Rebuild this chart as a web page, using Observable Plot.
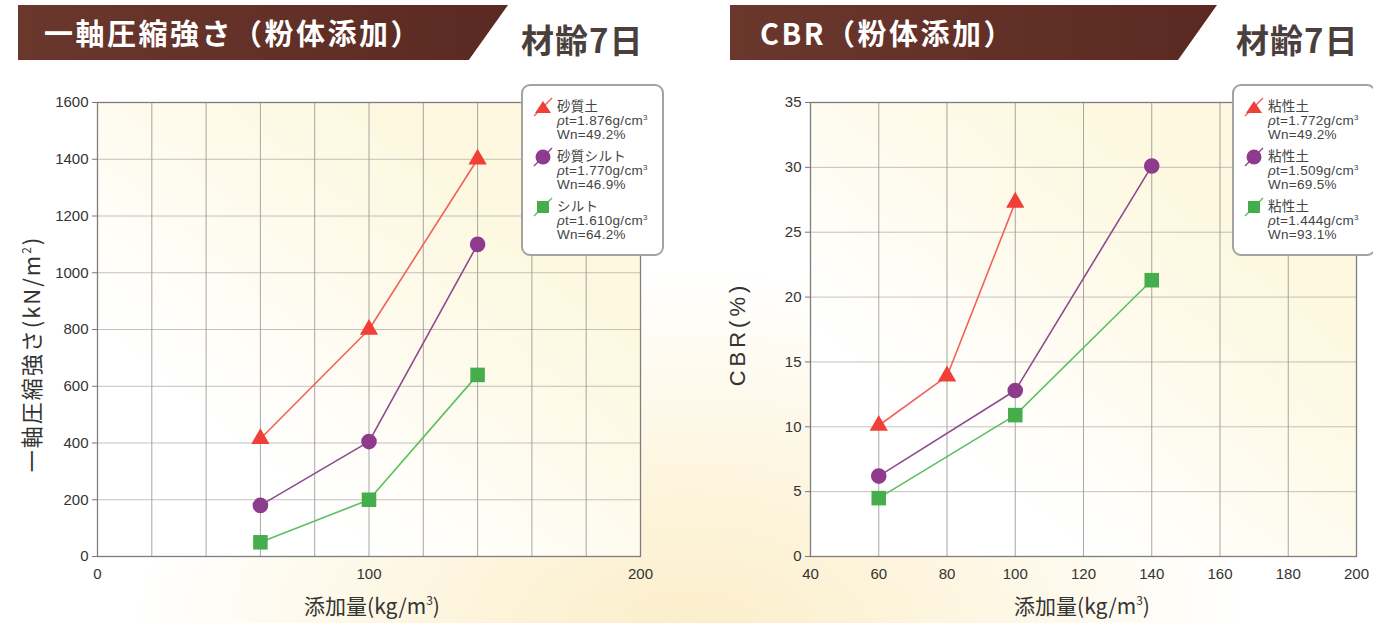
<!DOCTYPE html>
<html><head><meta charset="utf-8">
<script src="https://cdn.jsdelivr.net/npm/d3@7"></script>
<script src="https://cdn.jsdelivr.net/npm/@observablehq/plot@0.6"></script>
<style>
html,body{margin:0;padding:0;}
body{width:1373px;height:623px;position:relative;overflow:hidden;font-family:"Noto Sans CJK JP","Noto Sans",sans-serif;
 background: radial-gradient(ellipse 560px 380px at 690px 650px, #fbedc8 0%, #fdf5de 45%, rgba(255,255,255,0) 100%), #ffffff;}
.banner{position:absolute;top:5px;height:55px;background:linear-gradient(90deg,#6a372d,#5a2a22);}
.banner span{position:absolute;top:50%;transform:translateY(-52%);color:#fff;font-weight:700;font-size:29px;white-space:nowrap;letter-spacing:2.5px;}
.age{position:absolute;top:15px;font-size:33px;font-weight:700;color:#4a3f3d;white-space:nowrap;letter-spacing:1px;}
.plotbg{position:absolute;background:linear-gradient(to top right,#ffffff 25%,#fdf8df 75%);}
.chart{position:absolute;top:80px;}
.xlabel{position:absolute;top:590px;font-size:21px;color:#333;transform:translateX(-50%);white-space:nowrap;}
.ylabel{position:absolute;font-size:22px;color:#333;transform:translate(-50%,-50%) rotate(-90deg);white-space:nowrap;letter-spacing:2px;}
.sup{font-size:12px;position:relative;top:-9px;}
.legend{position:absolute;top:84px;height:168px;border:2px solid #a3a3a3;border-radius:9px;background:#fff;}
.legend .t{position:absolute;font-size:13.5px;line-height:14px;height:14px;color:#444;white-space:nowrap;letter-spacing:0.3px;font-family:"Liberation Sans","Noto Sans CJK JP",sans-serif;}
.legend .t .s{font-size:8px;position:relative;top:-5px;}
.legend svg{position:absolute;}
</style></head>
<body>
<div class="banner" style="left:18px;width:490px;clip-path:polygon(0 0,100% 0,92% 100%,0 100%);"><span style="left:26px;">一軸圧縮強さ（粉体添加）</span></div>
<div class="age" style="left:521px;">材齢7日</div>
<div class="banner" style="left:730px;width:487px;clip-path:polygon(0 0,100% 0,92% 100%,0 100%);"><span style="left:30px;">CBR（粉体添加）</span></div>
<div class="age" style="left:1236px;">材齢7日</div>

<div class="plotbg" style="left:97px;top:102px;width:543px;height:454px;"></div>
<div class="plotbg" style="left:810px;top:102px;width:546px;height:454px;"></div>
<div id="left" class="chart" style="left:0px;"></div>
<div id="right" class="chart" style="left:690px;"></div>

<div class="xlabel" style="left:372px;">添加量(kg/m<span class="sup">3</span>)</div>
<div class="xlabel" style="left:1082px;">添加量(kg/m<span class="sup">3</span>)</div>
<div class="ylabel" style="left:30px;top:354px;">一軸圧縮強さ(kN/m<span class="sup">2</span>)</div>
<div class="ylabel" style="left:738px;top:334px;font-family:'Liberation Sans','Noto Sans CJK JP';letter-spacing:4px;">CBR(%)</div>

<div id="legL" class="legend" style="left:521px;width:139px;"></div>
<div id="legR" class="legend" style="left:1232px;width:140px;"></div>

<script>
// ---- data ----
const leftX = [60, 100, 140];
const sandySoil = [415, 800, 1400];
const sandySilt = [180, 405, 1100];
const silt = [50, 200, 640];
const leftNames = ["砂質土", "砂質シルト", "シルト"];
const leftRho = ["1.876", "1.770", "1.610"];
const leftWn = ["49.2", "46.9", "64.2"];

const rightXa = [60, 80, 100];
const rightXb = [60, 100, 140];
const clayA = [10.1, 13.9, 27.3];
const clayB = [6.2, 12.8, 30.1];
const clayC = [4.5, 10.9, 21.3];
const rightNames = ["粘性土", "粘性土", "粘性土"];
const rightRho = ["1.772", "1.509", "1.444"];
const rightWn = ["49.2", "69.5", "93.1"];

const leftXTicks = [0,20,40,60,80,100,120,140,160,180,200];
const leftYTicks = [0,200,400,600,800,1000,1200,1400,1600];
const rightXTicks = [40,60,80,100,120,140,160,180,200];
const rightYTicks = [0,5,10,15,20,25,30,35];

const colors = ["#ef3f36", "#8f3b8d", "#46ad4c"];
const lineColors = ["#f0625a", "#8f4a8f", "#5cbf60"];
const symbols = ["triangle", "circle", "square"];
const sizes = [6.8, 7.8, 8.2];

function rows(xs, ys, k){ return xs.map((x,i)=>({x, y: ys[i], k})); }
const leftData = [rows(leftX, sandySoil, 0), rows(leftX, sandySilt, 1), rows(leftX, silt, 2)];
const rightData = [rows(rightXa, clayA, 0), rows(rightXb, clayB, 1), rows(rightXb, clayC, 2)];

const tickFont = "'Liberation Sans Narrow','Liberation Sans',Arial,sans-serif";

function seriesMarks(data){
  const m = [];
  data.forEach((d,k)=>{
    m.push(Plot.line(d,{x:"x",y:"y",stroke:lineColors[k],strokeWidth:1.6}));
  });
  data.forEach((d,k)=>{
    m.push(Plot.dot(d,{x:"x",y:"y",fill:colors[k],stroke:"none",symbol:()=>symbols[k],r:sizes[k]}));
  });
  return m;
}

function chart(o){
  return Plot.plot({
    width:o.width, height:543,
    marginLeft:o.ml, marginRight:o.mr, marginTop:22, marginBottom:67,
    x:{domain:o.xd},
    y:{domain:o.yd},
    style:{background:"transparent",fontFamily:tickFont,fontSize:"15px",color:"#333",overflow:"visible"},
    marks:[
      Plot.gridX(o.xt,{stroke:"#8a8a8a",strokeOpacity:0.75,strokeWidth:1}),
      Plot.gridY(o.yt,{stroke:"#9a9a9a",strokeOpacity:0.6,strokeWidth:1}),
      Plot.frame({stroke:"#7d7d7d",strokeWidth:1.3}),
      Plot.axisX(o.xt,{tickSize:0,tickPadding:12,label:null,tickFormat:o.xf,fontSize:15}),
      Plot.axisY(o.yt,{tickSize:5,tickPadding:4,label:null,stroke:"#777",fontSize:15,tickFormat:d=>String(d)}),
      ...seriesMarks(o.data)
    ]
  });
}

document.getElementById("left").append(chart({width:690,ml:97,mr:50,xd:[0,200],yd:[0,1600],xt:leftXTicks,yt:leftYTicks,
  xf:d=> d%100===0 ? String(d) : "", data:leftData}));
document.getElementById("right").append(chart({width:683,ml:120,mr:17,xd:[40,200],yd:[0,35],xt:rightXTicks,yt:rightYTicks,
  xf:d=>String(d), data:rightData}));

// ---- legends ----
function symbolSvg(k){
  const c = colors[k];
  let shape;
  if(k===0) shape = `<polygon points="10,4 18,16 2,16" fill="${c}"/>`;
  else if(k===1) shape = `<circle cx="10" cy="10" r="7.5" fill="${c}"/>`;
  else shape = `<rect x="4" y="4" width="12" height="12" fill="${c}"/>`;
  return `<svg width="24" height="24" viewBox="-2 -2 24 24"><line x1="1" y1="19" x2="19" y2="1" stroke="${lineColors[k]}" stroke-width="1.4"/>${shape}</svg>`;
}
function legend(id, names, rho, wn){
  const el = document.getElementById(id);
  let html = "";
  names.forEach((n,k)=>{
    const top = 14 + k*50;
    html += `<div style="position:absolute;left:8px;top:${top-5}px">${symbolSvg(k)}</div>`;
    html += `<div class="t" style="left:34px;top:${top}px">${n}</div>`;
    html += `<div class="t" style="left:34px;top:${top+14}px"><i>ρ</i>t=${rho[k]}g/cm<span class="s">3</span></div>`;
    html += `<div class="t" style="left:34px;top:${top+28}px">Wn=${wn[k]}%</div>`;
  });
  el.innerHTML = html;
}
legend("legL", leftNames, leftRho, leftWn);
legend("legR", rightNames, rightRho, rightWn);
</script>
</body></html>
